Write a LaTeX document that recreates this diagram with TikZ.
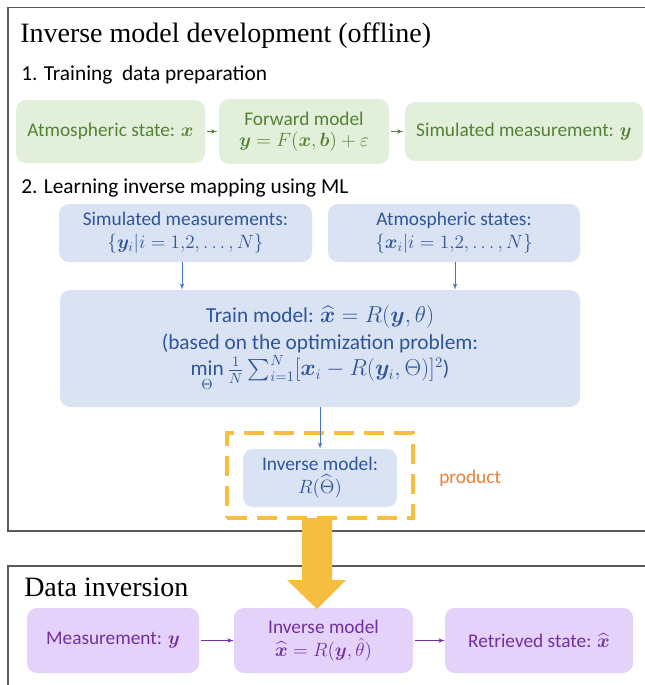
\documentclass[tikz,border=0pt]{standalone}
\usepackage{fontspec}
\setmainfont{Carlito}
\newfontfamily\headfont{Liberation Serif}
\usepackage{amsmath}
\usepackage{amssymb}
\usepackage{bm}
\usetikzlibrary{arrows}
\usetikzlibrary{positioning}

\definecolor{framegray}{RGB}{89,89,89}
\definecolor{greenfill}{RGB}{226,239,218}
\definecolor{greentext}{RGB}{84,130,53}
\definecolor{bluefill}{RGB}{218,227,243}
\definecolor{bluetext}{RGB}{47,85,151}
\definecolor{bluearrow}{RGB}{68,114,196}
\definecolor{purplefill}{RGB}{228,210,250}
\definecolor{purpletext}{RGB}{112,48,160}
\definecolor{prodorange}{RGB}{247,190,64}
\definecolor{prodtext}{RGB}{237,125,49}
\definecolor{bigarrow}{RGB}{246,190,65}

\tikzset{
  headtitle/.style={anchor=base west, inner sep=0pt, font=\headfont\fontsize{21}{24}\selectfont},
  subhead/.style={anchor=base west, inner sep=0pt, font=\fontsize{16}{19}\selectfont},
  roundbox/.style={rectangle, rounded corners=7.5pt, align=center, inner sep=0pt,
    font=\fontsize{14.5}{17}\selectfont},
  greenbox/.style={roundbox, fill=greenfill, text=greentext},
  bluebox/.style={roundbox, fill=bluefill, text=bluetext},
  purplebox/.style={roundbox, fill=purplefill, text=purpletext},
  greenarrow/.style={-latex', draw=greentext, line width=0.6pt},
  bluearr/.style={-latex', draw=bluearrow, line width=0.6pt},
  purplearrow/.style={-latex', draw=purpletext, line width=0.6pt},
  prodframe/.style={rectangle, draw=prodorange, line width=3pt, dash pattern=on 15pt off 7.5pt},
}

\begin{document}
\begin{tikzpicture}[x=0.75pt,y=0.75pt,yscale=-1,xscale=1]
\useasboundingbox (0,0) rectangle (644,685);

%Frames
\draw [framegray, line width=0.9pt] (8,7.5) rectangle (670,531);
\draw [framegray, line width=0.9pt] (8,566) rectangle (670,700);

%Headings
\node [headtitle] (devtitle) at (20,43) {Inverse model development (offline)};
\node [subhead] (stepone) at (21,80) {1. Training\ \ data preparation};
\node [subhead] (steptwo) at (21,193) {2. Learning inverse mapping using ML};
\node [headtitle] (invtitle) at (24,596) {Data inversion};

%Training data preparation
\node [greenbox, minimum width=141.75pt, minimum height=47.25pt] (atm) at (110.5,131.5) {Atmospheric state: $\bm{x}$};
\node [greenbox, minimum width=127.5pt, minimum height=48.75pt] (fwd) at (304,131.5) {Forward model\\[-1pt]$\bm{y}=F(\bm{x},\bm{b})+\varepsilon$};
\node [greenbox, minimum width=178.5pt, minimum height=44.25pt] (sim) at (524,131.5) {Simulated measurement: $\bm{y}$};
\draw [greenarrow, shorten <=1.5pt, shorten >=1pt] (atm) -- (fwd);
\draw [greenarrow, shorten <=1pt, shorten >=1pt] (fwd) -- (sim);

%Learning inverse mapping
\node [bluebox, minimum width=189.75pt, minimum height=43.5pt] (simset) at (185.5,233) {Simulated measurements:\\$\{\bm{y}_i|i=1{,}2,\dots,N\}$};
\node [bluebox, minimum width=189pt, minimum height=43.5pt] (atmset) at (454,233) {Atmospheric states:\\$\{\bm{x}_i|i=1{,}2,\dots,N\}$};
\node [bluebox, minimum width=390pt, minimum height=87.75pt, font=\fontsize{16}{20}\selectfont] (train) at (320,348.5) {Train model: $\widehat{\bm{x}}=R(\bm{y},\theta)$\\(based on the optimization problem:\\$\min\limits_{\Theta}\tfrac{1}{N}\sum_{i=1}^{N}[\bm{x}_i-R(\bm{y}_i,\Theta)]^2$)};
\draw [bluearr] (simset.south -| 182,0) -- (train.north -| 182,0);
\draw [bluearr] (atmset.south -| 455,0) -- (train.north -| 455,0);

%Product
\node [prodframe, minimum width=139.5pt, minimum height=63.75pt] (prodbox) at (320,475.5) {};
\node [bluebox, minimum width=115.5pt, minimum height=43.5pt] (inv) at (320,478) {Inverse model:\\$R(\widehat{\Theta})$};
\draw [bluearr] (train.south) -- (inv.north);
\node [right=18pt of prodbox, font=\fontsize{14.5}{17}\selectfont, text=prodtext, inner sep=0pt, yshift=-2pt] (prodlabel) {product};

%Data inversion
\node [purplebox, minimum width=129pt, minimum height=48.75pt] (meas) at (113,640.5) {Measurement: $\bm{y}$};
\node [purplebox, minimum width=134.25pt, minimum height=48.75pt] (invm) at (323.5,640.5) {Inverse model\\$\widehat{\bm{x}}=R(\bm{y},\hat{\theta})$};
\node [purplebox, minimum width=141pt, minimum height=48.75pt] (ret) at (539,640.5) {Retrieved state: $\widehat{\bm{x}}$};
\draw [purplearrow, shorten <=1pt] (meas) -- (invm);
\draw [purplearrow, shorten <=1pt] (invm) -- (ret);

%Big arrow
\fill [bigarrow] (302,518) -- (302,580) -- (287,580) -- (317,609) -- (346,580) -- (332,580) -- (332,518) -- cycle;

\end{tikzpicture}
\end{document}
